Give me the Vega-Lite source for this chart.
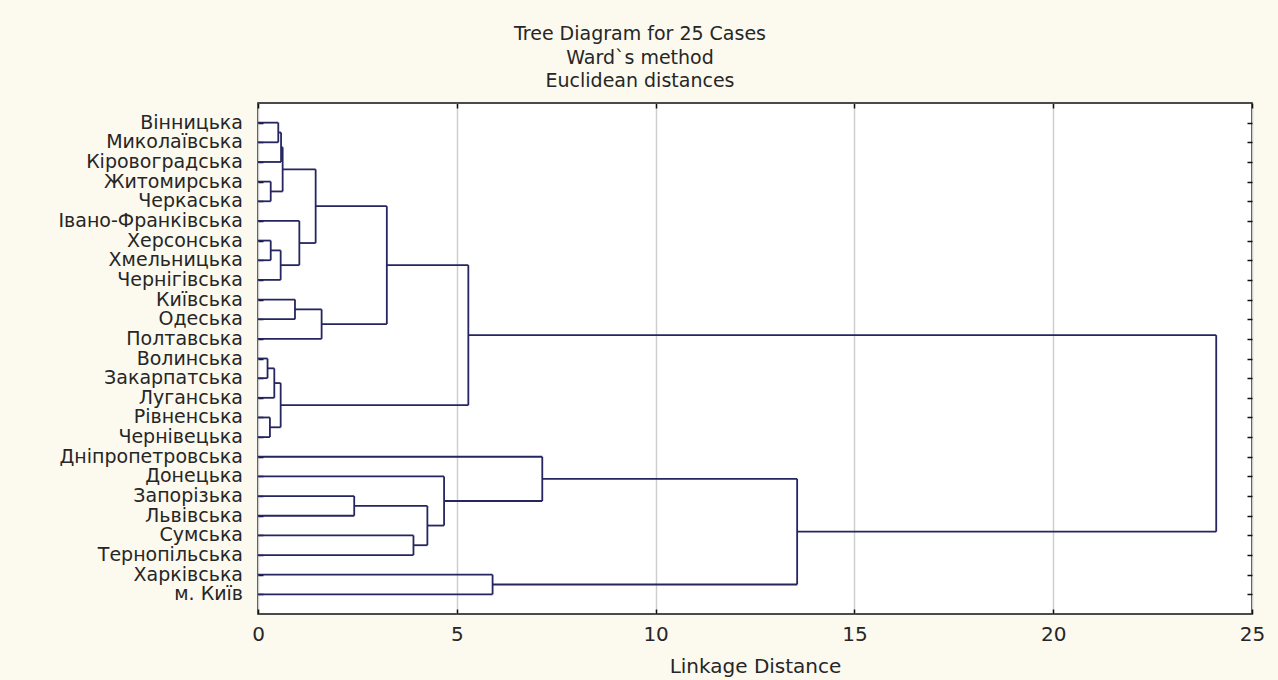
{
  "$schema": "https://vega.github.io/schema/vega-lite/v6.json",
  "autosize": {"type": "none"},
  "padding": {"left": 258, "top": 103, "right": 26, "bottom": 66},
  "width": 994,
  "height": 511,
  "background": "#fcf9ef",
  "config": {
    "view": {"fill": "white", "stroke": "#111111", "strokeWidth": 1.6},
    "font": "DejaVu Sans"
  },
  "title": {
    "text": ["Tree Diagram for 25 Cases", "Ward`s method", "Euclidean distances"],
    "font": "DejaVu Sans",
    "fontSize": 19,
    "fontWeight": "normal",
    "color": "#262626",
    "anchor": "middle",
    "frame": "group",
    "dx": -115,
    "lineHeight": 23.5,
    "offset": 11
  },
  "datasets": {
    "merges": [
      {"id": "A", "h": 0.51, "ya": 0, "yb": 1, "ha": 0, "hb": 0},
      {"id": "B", "h": 0.32, "ya": 3, "yb": 4, "ha": 0, "hb": 0},
      {"id": "C", "h": 0.58, "ya": 0.5, "yb": 2, "ha": 0.51, "hb": 0},
      {"id": "D", "h": 0.62, "ya": 1.25, "yb": 3.5, "ha": 0.58, "hb": 0.32},
      {"id": "E", "h": 0.32, "ya": 6, "yb": 7, "ha": 0, "hb": 0},
      {"id": "F", "h": 0.57, "ya": 6.5, "yb": 8, "ha": 0.32, "hb": 0},
      {"id": "G", "h": 1.04, "ya": 5, "yb": 7.25, "ha": 0, "hb": 0.57},
      {"id": "H", "h": 1.45, "ya": 2.375, "yb": 6.125, "ha": 0.62, "hb": 1.04},
      {"id": "I", "h": 0.93, "ya": 9, "yb": 10, "ha": 0, "hb": 0},
      {"id": "J", "h": 1.6, "ya": 9.5, "yb": 11, "ha": 0.93, "hb": 0},
      {"id": "K", "h": 3.24, "ya": 4.25, "yb": 10.25, "ha": 1.45, "hb": 1.6},
      {"id": "L", "h": 0.24, "ya": 12, "yb": 13, "ha": 0, "hb": 0},
      {"id": "M", "h": 0.41, "ya": 12.5, "yb": 14, "ha": 0.24, "hb": 0},
      {"id": "N", "h": 0.3, "ya": 15, "yb": 16, "ha": 0, "hb": 0},
      {"id": "O", "h": 0.57, "ya": 13.25, "yb": 15.5, "ha": 0.41, "hb": 0.3},
      {"id": "P", "h": 5.29, "ya": 7.25, "yb": 14.375, "ha": 3.24, "hb": 0.57},
      {"id": "Q", "h": 2.42, "ya": 19, "yb": 20, "ha": 0, "hb": 0},
      {"id": "R", "h": 3.91, "ya": 21, "yb": 22, "ha": 0, "hb": 0},
      {"id": "S", "h": 4.26, "ya": 19.5, "yb": 21.5, "ha": 2.42, "hb": 3.91},
      {"id": "T", "h": 4.68, "ya": 18, "yb": 20.5, "ha": 0, "hb": 4.26},
      {"id": "U", "h": 7.15, "ya": 17, "yb": 19.25, "ha": 0, "hb": 4.68},
      {"id": "V", "h": 5.9, "ya": 23, "yb": 24, "ha": 0, "hb": 0},
      {"id": "W", "h": 13.56, "ya": 18.125, "yb": 23.5, "ha": 7.15, "hb": 5.9},
      {"id": "X", "h": 24.1, "ya": 10.8125, "yb": 20.8125, "ha": 5.29, "hb": 13.56}
    ],
    "leaves": [
      {"row": 0, "name": "Вінницька"},
      {"row": 1, "name": "Миколаївська"},
      {"row": 2, "name": "Кіровоградська"},
      {"row": 3, "name": "Житомирська"},
      {"row": 4, "name": "Черкаська"},
      {"row": 5, "name": "Івано-Франківська"},
      {"row": 6, "name": "Херсонська"},
      {"row": 7, "name": "Хмельницька"},
      {"row": 8, "name": "Чернігівська"},
      {"row": 9, "name": "Київська"},
      {"row": 10, "name": "Одеська"},
      {"row": 11, "name": "Полтавська"},
      {"row": 12, "name": "Волинська"},
      {"row": 13, "name": "Закарпатська"},
      {"row": 14, "name": "Луганська"},
      {"row": 15, "name": "Рівненська"},
      {"row": 16, "name": "Чернівецька"},
      {"row": 17, "name": "Дніпропетровська"},
      {"row": 18, "name": "Донецька"},
      {"row": 19, "name": "Запорізька"},
      {"row": 20, "name": "Львівська"},
      {"row": 21, "name": "Сумська"},
      {"row": 22, "name": "Тернопільська"},
      {"row": 23, "name": "Харківська"},
      {"row": 24, "name": "м. Київ"}
    ]
  },
  "resolve": {"axis": {"x": "independent", "y": "independent"}},
  "layer": [
    {
      "data": {"name": "merges"},
      "mark": {"type": "rule", "color": "#252560", "strokeWidth": 1.8},
      "encoding": {
        "x": {
          "field": "h", "type": "quantitative",
          "scale": {"domain": [0, 25], "nice": false, "zero": false},
          "axis": {
            "orient": "bottom", "values": [0, 5, 10, 15, 20, 25],
            "tickSize": -5, "tickColor": "#111111", "tickWidth": 1.5,
            "domain": false, "labelFlush": false,
            "labelFont": "DejaVu Sans", "labelFontSize": 20, "labelColor": "#262626",
            "labelPadding": 15,
            "grid": true, "gridColor": "#cfcfcf", "gridWidth": 1.5,
            "title": "Linkage Distance", "titleFont": "DejaVu Sans", "titleFontSize": 20,
            "titleFontWeight": "normal", "titleColor": "#262626", "titlePadding": 12
          }
        },
        "y": {
          "field": "ya", "type": "quantitative",
          "scale": {"domain": [-1, 25], "reverse": true, "nice": false, "zero": false},
          "axis": {
            "orient": "left", "values": [0,1,2,3,4,5,6,7,8,9,10,11,12,13,14,15,16,17,18,19,20,21,22,23,24],
            "tickSize": -5, "tickColor": "#111111", "tickWidth": 1.5,
            "domain": false, "labels": false, "grid": false, "title": null
          }
        },
        "y2": {"field": "yb"}
      }
    },
    {
      "data": {"name": "merges"},
      "mark": {"type": "rule", "color": "#252560", "strokeWidth": 1.8},
      "encoding": {
        "x": {
          "field": "ha", "type": "quantitative",
          "axis": {
            "orient": "top", "values": [0, 5, 10, 15, 20, 25],
            "tickSize": -5, "tickColor": "#111111", "tickWidth": 1.5,
            "domain": false, "labels": false, "grid": false, "title": null
          }
        },
        "x2": {"field": "h"},
        "y": {
          "field": "ya", "type": "quantitative",
          "axis": {
            "orient": "right", "values": [0,1,2,3,4,5,6,7,8,9,10,11,12,13,14,15,16,17,18,19,20,21,22,23,24],
            "tickSize": -5, "tickColor": "#111111", "tickWidth": 1.5,
            "domain": false, "labels": false, "grid": false, "title": null
          }
        }
      }
    },
    {
      "data": {"name": "merges"},
      "mark": {"type": "rule", "color": "#252560", "strokeWidth": 1.8},
      "encoding": {
        "x": {"field": "hb", "type": "quantitative", "axis": null},
        "x2": {"field": "h"},
        "y": {"field": "yb", "type": "quantitative", "axis": null}
      }
    },
    {
      "data": {"name": "leaves"},
      "mark": {"type": "text", "align": "right", "baseline": "middle", "dx": -15, "font": "DejaVu Sans", "fontSize": 19, "color": "#262626"},
      "encoding": {
        "x": {"datum": 0, "type": "quantitative", "axis": null},
        "y": {"field": "row", "type": "quantitative", "axis": null},
        "text": {"field": "name"}
      }
    }
  ]
}
